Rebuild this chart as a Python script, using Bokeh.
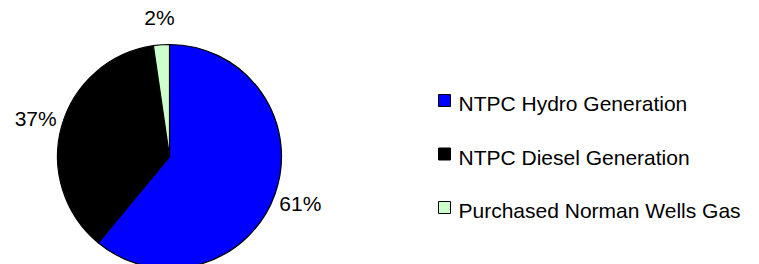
import math
import pandas as pd
from bokeh.plotting import figure
from bokeh.models import Range1d, ColumnDataSource
from bokeh.core.properties import value
from bokeh.embed import file_html
from bokeh.resources import INLINE

# ---- data ----
categories = ["NTPC Hydro Generation", "NTPC Diesel Generation", "Purchased Norman Wells Gas"]
shares = [61.0, 36.7, 2.3]
pct_labels = ["61%", "37%", "2%"]
colors = ["#0000FF", "#000000", "#CCFFCC"]

# ---- layout (styling, not data) ----
W, H = 759, 264
FONT = "Liberation Sans"
label_dist = 139

df = pd.DataFrame({"cat": categories, "share": shares, "lab": pct_labels, "color": colors})
df["frac"] = df["share"] / df["share"].sum()
cum = df["frac"].cumsum()
prev = cum - df["frac"]
df["start"] = math.pi / 2 - prev * 2 * math.pi
df["end"] = math.pi / 2 - cum * 2 * math.pi
df["mid"] = (df["start"] + df["end"]) / 2

# pixel-like data space: x = canvas x, y = H - canvas y
cx, cy, r = 169, H - 156, 112
df["cx"] = cx
df["cy"] = cy
df["lx"] = cx + label_dist * df["mid"].apply(math.cos)
df["ly"] = cy + label_dist * df["mid"].apply(math.sin)

src = ColumnDataSource(df)

p = figure(width=W, height=H, output_backend="svg", toolbar_location=None,
           x_range=Range1d(0, W), y_range=Range1d(0, H),
           min_border=0, outline_line_color=None)
p.axis.visible = False
p.grid.visible = False
p.background_fill_color = "white"
p.border_fill_color = "white"

p.wedge(x="cx", y="cy", radius=r, start_angle="start", end_angle="end",
        direction="clock", fill_color="color", line_color="black", line_width=1.2,
        source=src)

p.text(x="lx", y="ly", text="lab", source=src, text_font=value(FONT),
       text_font_size="21px", text_align="center", text_baseline="middle",
       text_color="black")

# legend drawn manually
leg = pd.DataFrame({"cat": categories, "color": colors})
row_y = [100, 153.5, 207]
leg["y"] = [H - v for v in row_y]
leg["ty"] = [H - v - 3 for v in row_y]
leg["sx"] = 444
leg["tx"] = 458
lsrc = ColumnDataSource(leg)
p.rect(x="sx", y="y", width=12, height=12, fill_color="color", line_color="black",
       line_width=1, source=lsrc)
p.text(x="tx", y="ty", text="cat", source=lsrc, text_font=value(FONT),
       text_font_size="21px", text_align="left", text_baseline="alphabetic",
       text_color="black")

open("out.html", "w").write(file_html(p, INLINE))
